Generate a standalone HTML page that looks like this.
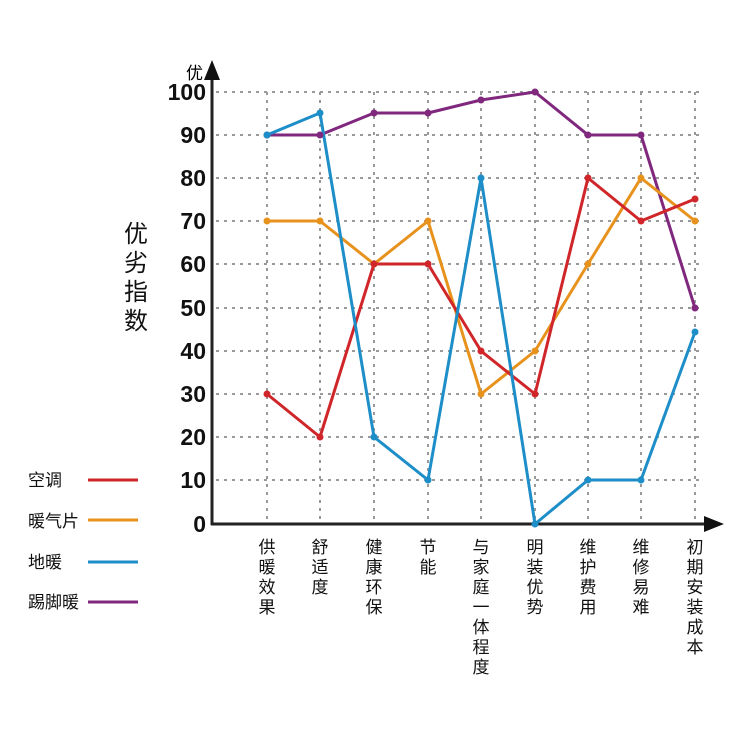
<!DOCTYPE html>
<html><head><meta charset="utf-8"><style>
body{margin:0;background:#fff;width:750px;height:750px;overflow:hidden}
svg text{font-family:"Liberation Sans","Noto Sans CJK SC",sans-serif}
</style></head><body>
<svg width="750" height="750" xmlns="http://www.w3.org/2000/svg">
<g stroke="#999" stroke-width="2" stroke-dasharray="3,5">
<line x1="216" y1="92" x2="700" y2="92"/><line x1="216" y1="135" x2="700" y2="135"/><line x1="216" y1="178" x2="700" y2="178"/><line x1="216" y1="221" x2="700" y2="221"/><line x1="216" y1="264" x2="700" y2="264"/><line x1="216" y1="308" x2="700" y2="308"/><line x1="216" y1="351" x2="700" y2="351"/><line x1="216" y1="394" x2="700" y2="394"/><line x1="216" y1="437" x2="700" y2="437"/><line x1="216" y1="480" x2="700" y2="480"/>
<line x1="267" y1="92" x2="267" y2="524"/><line x1="320" y1="92" x2="320" y2="524"/><line x1="374" y1="92" x2="374" y2="524"/><line x1="428" y1="92" x2="428" y2="524"/><line x1="481" y1="92" x2="481" y2="524"/><line x1="535" y1="92" x2="535" y2="524"/><line x1="588" y1="92" x2="588" y2="524"/><line x1="641" y1="92" x2="641" y2="524"/><line x1="695" y1="92" x2="695" y2="524"/>
</g>
<line x1="212" y1="75" x2="212" y2="525" stroke="#222" stroke-width="3"/>
<polygon points="212,60 204,80 220,80" fill="#111"/>
<line x1="211" y1="524" x2="708" y2="524" stroke="#222" stroke-width="3"/>
<polygon points="724,524 704,516 704,532" fill="#111"/>
<g font-size="23" font-weight="bold" text-anchor="end" fill="#111">
<text x="206" y="100">100</text><text x="206" y="143">90</text><text x="206" y="186">80</text><text x="206" y="229">70</text><text x="206" y="272">60</text><text x="206" y="316">50</text><text x="206" y="359">40</text><text x="206" y="402">30</text><text x="206" y="445">20</text><text x="206" y="488">10</text><text x="206" y="532">0</text>
</g>
<text x="186" y="79" font-size="17">优</text>
<g font-size="24" fill="#111"><text x="124" y="242">优</text><text x="124" y="271">劣</text><text x="124" y="300">指</text><text x="124" y="329">数</text></g>
<g font-size="17" fill="#111">
<text x="28" y="486">空调</text><text x="28" y="527">暖气片</text><text x="28" y="568">地暖</text><text x="28" y="608">踢脚暖</text>
</g>
<g stroke-width="3"><line x1="88" y1="480" x2="138" y2="480" stroke="#d0262a"/><line x1="88" y1="520" x2="138" y2="520" stroke="#e8921e"/><line x1="88" y1="562" x2="138" y2="562" stroke="#1e8ec8"/><line x1="88" y1="602" x2="138" y2="602" stroke="#80287e"/></g>
<g font-size="17" fill="#111" text-anchor="middle">
<text x="267" y="553">供</text><text x="267" y="573">暖</text><text x="267" y="593">效</text><text x="267" y="613">果</text>
<text x="320" y="553">舒</text><text x="320" y="573">适</text><text x="320" y="593">度</text>
<text x="374" y="553">健</text><text x="374" y="573">康</text><text x="374" y="593">环</text><text x="374" y="613">保</text>
<text x="428" y="553">节</text><text x="428" y="573">能</text>
<text x="481" y="553">与</text><text x="481" y="573">家</text><text x="481" y="593">庭</text><text x="481" y="613">一</text><text x="481" y="633">体</text><text x="481" y="653">程</text><text x="481" y="673">度</text>
<text x="535" y="553">明</text><text x="535" y="573">装</text><text x="535" y="593">优</text><text x="535" y="613">势</text>
<text x="588" y="553">维</text><text x="588" y="573">护</text><text x="588" y="593">费</text><text x="588" y="613">用</text>
<text x="641" y="553">维</text><text x="641" y="573">修</text><text x="641" y="593">易</text><text x="641" y="613">难</text>
<text x="695" y="553">初</text><text x="695" y="573">期</text><text x="695" y="593">安</text><text x="695" y="613">装</text><text x="695" y="633">成</text><text x="695" y="653">本</text>
</g>
<g fill="none" stroke-width="3" stroke-linejoin="round">
<polyline stroke="#80287e" points="267,135 320,135 374,113 428,113 481,100 535,92 588,135 641,135 695,308"/>
<polyline stroke="#e8921e" points="267,221 320,221 374,264 428,221 481,394 535,351 588,264 641,178 695,221"/>
<polyline stroke="#d0262a" points="267,394 320,437 374,264 428,264 481,351 535,394 588,178 641,221 695,199"/>
<polyline stroke="#1e8ec8" points="267,135 320,113 374,437 428,480 481,178 535,524 588,480 641,480 695,332"/>
</g>
<g fill="#80287e"><circle cx="267" cy="135" r="3.5"/><circle cx="320" cy="135" r="3.5"/><circle cx="374" cy="113" r="3.5"/><circle cx="428" cy="113" r="3.5"/><circle cx="481" cy="100" r="3.5"/><circle cx="535" cy="92" r="3.5"/><circle cx="588" cy="135" r="3.5"/><circle cx="641" cy="135" r="3.5"/><circle cx="695" cy="308" r="3.5"/></g>
<g fill="#e8921e"><circle cx="267" cy="221" r="3.5"/><circle cx="320" cy="221" r="3.5"/><circle cx="374" cy="264" r="3.5"/><circle cx="428" cy="221" r="3.5"/><circle cx="481" cy="394" r="3.5"/><circle cx="535" cy="351" r="3.5"/><circle cx="588" cy="264" r="3.5"/><circle cx="641" cy="178" r="3.5"/><circle cx="695" cy="221" r="3.5"/></g>
<g fill="#d0262a"><circle cx="267" cy="394" r="3.5"/><circle cx="320" cy="437" r="3.5"/><circle cx="374" cy="264" r="3.5"/><circle cx="428" cy="264" r="3.5"/><circle cx="481" cy="351" r="3.5"/><circle cx="535" cy="394" r="3.5"/><circle cx="588" cy="178" r="3.5"/><circle cx="641" cy="221" r="3.5"/><circle cx="695" cy="199" r="3.5"/></g>
<g fill="#1e8ec8"><circle cx="267" cy="135" r="3.5"/><circle cx="320" cy="113" r="3.5"/><circle cx="374" cy="437" r="3.5"/><circle cx="428" cy="480" r="3.5"/><circle cx="481" cy="178" r="3.5"/><circle cx="535" cy="524" r="3.5"/><circle cx="588" cy="480" r="3.5"/><circle cx="641" cy="480" r="3.5"/><circle cx="695" cy="332" r="3.5"/></g>
</svg>
</body></html>
